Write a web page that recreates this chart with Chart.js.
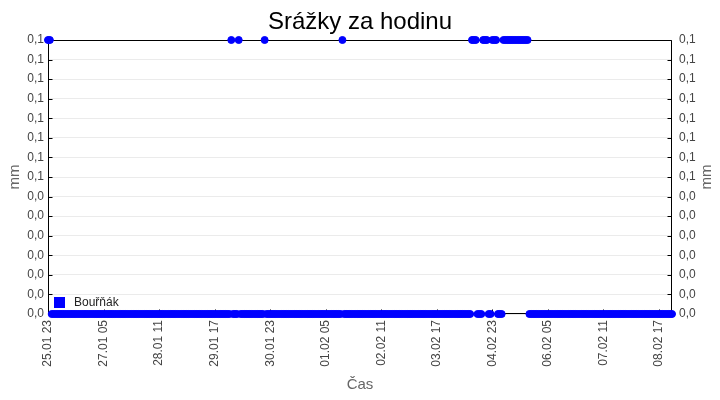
<!DOCTYPE html>
<html>
<head>
<meta charset="utf-8">
<script src="https://cdn.jsdelivr.net/npm/chart.js@4.4.1/dist/chart.umd.min.js"></script>
<style>
  body { margin: 0; background: #fff; }
</style>
</head>
<body>
<canvas id="myChart" width="720" height="400"></canvas>
<script>
// days covered by the series (first day starts at 23 h, last day ends at 00 h)
const days = ["25.01", "26.01", "27.01", "28.01", "29.01", "30.01", "31.01", "01.02",
  "02.02", "03.02", "04.02", "05.02", "06.02", "07.02", "08.02", "09.02"];

// hourly precipitation [mm], one row per day
const srazky = [
  0.1, // 25.01 23
  0.1, 0, 0, 0, 0, 0, 0, 0, 0, 0, 0, 0, 0, 0, 0, 0, 0, 0, 0, 0, 0, 0, 0, 0, // 26.01
  0, 0, 0, 0, 0, 0, 0, 0, 0, 0, 0, 0, 0, 0, 0, 0, 0, 0, 0, 0, 0, 0, 0, 0,   // 27.01
  0, 0, 0, 0, 0, 0, 0, 0, 0, 0, 0, 0, 0, 0, 0, 0, 0, 0, 0, 0, 0, 0, 0, 0,   // 28.01
  0, 0, 0, 0, 0, 0, 0, 0, 0, 0, 0, 0, 0, 0, 0, 0, 0, 0, 0, 0, 0, 0, 0, 0,   // 29.01
  0, 0, 0.1, 0, 0, 0, 0.1, 0, 0, 0, 0, 0, 0, 0, 0, 0, 0, 0, 0, 0, 0.1, 0, 0, 0, // 30.01
  0, 0, 0, 0, 0, 0, 0, 0, 0, 0, 0, 0, 0, 0, 0, 0, 0, 0, 0, 0, 0, 0, 0, 0,   // 31.01
  0, 0, 0, 0, 0, 0, 0, 0, 0, 0, 0, 0, 0, 0, 0.1, 0, 0, 0, 0, 0, 0, 0, 0, 0, // 01.02
  0, 0, 0, 0, 0, 0, 0, 0, 0, 0, 0, 0, 0, 0, 0, 0, 0, 0, 0, 0, 0, 0, 0, 0,   // 02.02
  0, 0, 0, 0, 0, 0, 0, 0, 0, 0, 0, 0, 0, 0, 0, 0, 0, 0, 0, 0, 0, 0, 0, 0,   // 03.02
  0, 0, 0, 0, 0, 0, 0, 0, 0, 0, 0, 0, 0.1, 0.1, 0.1, 0, 0, 0, 0.1, 0.1, 0.1, 0, 0, 0.1, // 04.02
  0.1, 0.1, 0, 0, 0, 0.1, 0.1, 0.1, 0.1, 0.1, 0.1, 0.1, 0.1, 0.1, 0.1, 0.1, 0.1, 0.1, 0.1, 0, 0, 0, 0, 0, // 05.02
  0, 0, 0, 0, 0, 0, 0, 0, 0, 0, 0, 0, 0, 0, 0, 0, 0, 0, 0, 0, 0, 0, 0, 0,   // 06.02
  0, 0, 0, 0, 0, 0, 0, 0, 0, 0, 0, 0, 0, 0, 0, 0, 0, 0, 0, 0, 0, 0, 0, 0,   // 07.02
  0, 0, 0, 0, 0, 0, 0, 0, 0, 0, 0, 0, 0, 0, 0, 0, 0, 0, 0, 0, 0, 0, 0, 0,   // 08.02
  0  // 09.02 00
];

const yMin = 0;
const yMax = 0.1;
const yTickCount = 15;
const labelEvery = 30;

// hour labels "DD.MM HH"
const labels = [];
for (let i = 0; i < srazky.length; i++) {
  const h = 23 + i;
  const d = days[Math.floor(h / 24)];
  labels.push(d + " " + String(h % 24).padStart(2, "0"));
}

const fmt = (v) => (Math.round(v * 10 + 1e-9) / 10).toFixed(1).replace(".", ",");
const font = "'Liberation Sans', Arial, sans-serif";

// frame, small inner tick marks, legend and right axis title
const frame = {
  id: "frame",
  beforeDatasetsDraw(chart) {
    const { ctx, chartArea: a, scales } = chart;
    ctx.save();
    ctx.strokeStyle = "#000";
    ctx.lineWidth = 1;
    ctx.beginPath();
    const l = Math.round(a.left) + 0.5, r = Math.round(a.right) - 0.5;
    const t = Math.round(a.top) + 0.5, b = Math.round(a.bottom) - 0.5;
    ctx.rect(l, t, r - l, b - t);
    scales.y.ticks.forEach((tk, i) => {
      const y = Math.round(scales.y.getPixelForTick(i)) + 0.5;
      ctx.moveTo(l, y); ctx.lineTo(l + 4, y);
      ctx.moveTo(r - 4, y); ctx.lineTo(r, y);
    });
    for (let i = 0; i < labels.length; i += labelEvery) {
      const x = Math.round(scales.x.getPixelForValue(i)) + 0.5;
      ctx.moveTo(x, b); ctx.lineTo(x, b - 4);
    }
    ctx.stroke();
    ctx.restore();
  },
  afterDatasetsDraw(chart) {
    const { ctx, chartArea: a } = chart;
    ctx.save();
    ctx.fillStyle = "#0000ff";
    ctx.fillRect(a.left + 6, a.bottom - 17, 11, 11);
    ctx.fillStyle = "#222";
    ctx.font = "12px " + font;
    ctx.textBaseline = "middle";
    ctx.fillText(chart.data.datasets[0].label, a.left + 26, a.bottom - 11);
    // right "mm", same reading direction as the left one
    ctx.fillStyle = "#666";
    ctx.font = "15px " + font;
    ctx.textAlign = "center";
    ctx.translate(chart.width - 13, (a.top + a.bottom) / 2);
    ctx.rotate(-Math.PI / 2);
    ctx.fillText("mm", 0, 0);
    ctx.restore();
  }
};

const yTicksBuild = (scale) => {
  scale.ticks = [];
  for (let i = 0; i < yTickCount; i++) {
    scale.ticks.push({ value: yMin + (yMax - yMin) * i / (yTickCount - 1) });
  }
};

new Chart(document.getElementById("myChart"), {
  type: "line",
  data: {
    labels: labels,
    datasets: [
      {
        label: "Bouřňák",
        data: srazky,
        showLine: false,
        pointRadius: 3.5,
        pointBorderWidth: 1,
        pointBackgroundColor: "#0000ff",
        pointBorderColor: "#0000ff",
        clip: false,
      },
    ],
  },
  options: {
    responsive: false,
    animation: false,
    events: [],
    layout: { padding: 0 },
    plugins: {
      legend: { display: false },
      tooltip: { enabled: false },
      title: {
        display: true,
        text: "Srážky za hodinu",
        color: "#000",
        font: { family: font, size: 24, weight: "normal" },
        padding: { top: 8, bottom: 3.2 },
      },
    },
    scales: {
      x: {
        type: "category",
        offset: false,
        grid: { display: false, drawTicks: false },
        border: { display: false },
        ticks: {
          autoSkip: false,
          minRotation: 90,
          maxRotation: 90,
          padding: 6,
          color: "#444",
          font: { family: font, size: 12 },
          callback: function (value, index) {
            return index % labelEvery === 0 ? this.getLabelForValue(value) : null;
          },
        },
        title: {
          display: true,
          text: "Čas",
          color: "#666",
          font: { family: font, size: 15 },
          padding: { top: 4, bottom: 6 },
        },
        afterFit: (s) => { s.height = 86; },
      },
      y: {
        position: "left",
        min: yMin,
        max: yMax,
        afterBuildTicks: yTicksBuild,
        grid: { color: "#ebebeb", drawTicks: false },
        border: { display: false },
        ticks: {
          padding: 4,
          color: "#444",
          font: { family: font, size: 12 },
          callback: (v) => fmt(v),
        },
        title: {
          display: true,
          text: "mm",
          color: "#666",
          font: { family: font, size: 15 },
          padding: { top: 6, bottom: 0 },
        },
        afterFit: (s) => { s.width = 48; },
      },
      y2: {
        position: "right",
        min: yMin,
        max: yMax,
        afterBuildTicks: yTicksBuild,
        grid: { display: false, drawTicks: false },
        border: { display: false },
        ticks: {
          padding: 7,
          color: "#444",
          font: { family: font, size: 12 },
          callback: (v) => fmt(v),
        },
        afterFit: (s) => { s.width = 48; },
      },
    },
  },
  plugins: [frame],
});
</script>
</body>
</html>
